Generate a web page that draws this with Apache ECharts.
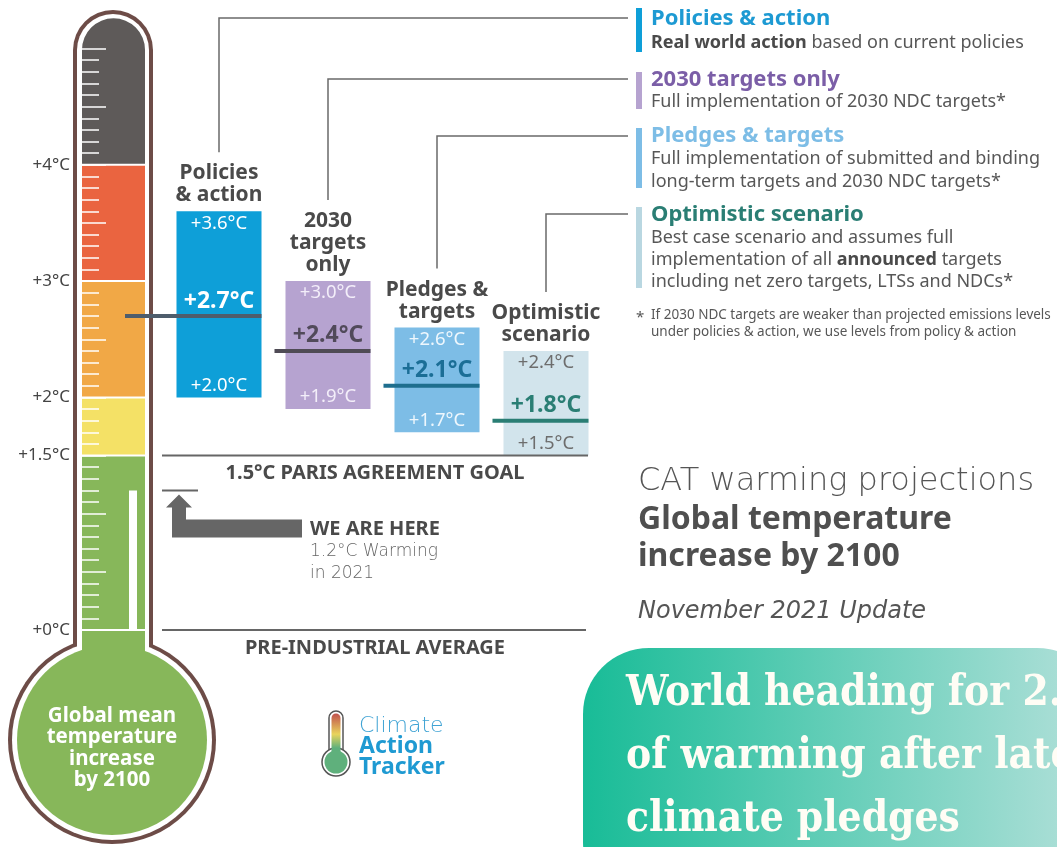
<!DOCTYPE html>
<html lang="en">
<head>
<meta charset="UTF-8">
<title>CAT warming projections</title>
<script src="https://cdn.jsdelivr.net/npm/echarts@6/dist/echarts.min.js"></script>
<style>
    *{margin:0;padding:0;}
    html,body{width:100%;height:100%;overflow:hidden;background:#fff;}
    .container{width:1057px;height:847px;}
</style>
</head>
<body>
<div class="container"></div>
<script>
// scenario data (°C by 2100)
let scenarios = ['Policies & action', '2030 targets only', 'Pledges & targets', 'Optimistic scenario'];
let scenarioTitles = ['Policies\n& action', '2030\ntargets\nonly', 'Pledges &\ntargets', 'Optimistic\nscenario'];
let lowValues = [2.0, 1.9, 1.7, 1.5];
let midValues = [2.7, 2.4, 2.1, 1.8];
let highValues = [3.6, 3.0, 2.6, 2.4];

// thermometer colour bands
let bandFrom = [0, 1.5, 2, 3, 4];
let bandTo = [1.5, 2, 3, 4, 5.26];
let tempLabels = [0, 1.5, 2, 3, 4];

let parisGoal = 1.5;
let preIndustrial = 0;
let currentWarming = 1.2;

let FONT = "'Noto Sans', 'Open Sans', sans-serif";
let LIGHT = "'DejaVu Sans', 'Noto Sans', sans-serif";
let SLAB = "'DejaVu Serif Condensed', 'DejaVu Serif', serif";
let bandColors = ['#87b75a', '#f4e166', '#f1a846', '#ea6440', '#5e5a59'];
let barStyles = [
    {fill:'#0e9fd8', line:'#4e5d6c', edge:'#ffffff', mid:'#ffffff'},
    {fill:'#b6a3d0', line:'#4f4b55', edge:'#f3eef9', mid:'#514a5a'},
    {fill:'#7dbde6', line:'#1e6e8e', edge:'#eef7fd', mid:'#1b6e96'},
    {fill:'#d2e4ec', line:'#2a7e74', edge:'#6d6d6d', mid:'#2a7e74'}
];
let legendY = [18, 79, 136, 214];

let container = document.querySelector('.container');
let mycharts = echarts.init(container);

let option = {
    animation: false,
    grid: [
        {left: 82, width: 63, top: 48.5, bottom: 217},
        {left: 164.5, width: 436, top: 48.5, bottom: 217}
    ],
    xAxis: [
        {gridIndex: 0, type: 'value', min: 0, max: 1, show: false},
        {gridIndex: 1, type: 'category', data: scenarios, show: false}
    ],
    yAxis: [
        {
            gridIndex: 0, type: 'value', min: 0, max: 5, position: 'left',
            axisLine: {show: false}, axisTick: {show: false}, splitLine: {show: false},
            axisLabel: {
                customValues: tempLabels, margin: 12,
                color: '#444', fontSize: 17, fontFamily: FONT,
                formatter: v => '+' + v + '°C'
            }
        },
        {gridIndex: 1, type: 'value', min: 0, max: 5, show: false},
        {
            gridIndex: 0, type: 'value', min: 0, max: 5, interval: 0.1, z: 10, position: 'left',
            axisLine: {show: false}, splitLine: {show: false}, axisLabel: {show: false},
            axisTick: {show: true, inside: true, length: 17, lineStyle: {color: '#fff', width: 1.5}}
        },
        {
            gridIndex: 0, type: 'value', min: 0, max: 5, interval: 0.5, z: 10, position: 'left',
            axisLine: {show: false}, splitLine: {show: false}, axisLabel: {show: false},
            axisTick: {show: true, inside: true, length: 24, lineStyle: {color: '#fff', width: 1.5}}
        }
    ],
    series: [
        {
            type: 'custom', name: 'bands', xAxisIndex: 0, yAxisIndex: 0, z: 5,
            data: bandFrom.map((f, i) => [i, f, bandTo[i]]),
            encode: {y: [1, 2]},
            renderItem: function (params, api) {
                let i = api.value(0);
                let top = api.coord([0, api.value(2)]);
                let bot = api.coord([1, api.value(1)]);
                let last = i === bandFrom.length - 1;
                let y0 = top[1] + (last ? 0 : 1);
                let y1 = bot[1] - 1;
                return {
                    type: 'rect',
                    shape: {x: top[0], y: y0, width: bot[0] - top[0], height: y1 - y0, r: last ? [31.5, 31.5, 0, 0] : 0},
                    style: {fill: bandColors[i]}
                };
            }
        },
        {
            type: 'custom', name: 'scenarios', xAxisIndex: 1, yAxisIndex: 1, z: 6,
            data: scenarios.map((s, i) => [i, lowValues[i], midValues[i], highValues[i]]),
            encode: {x: 0, y: [1, 2, 3]},
            renderItem: function (params, api) {
                let i = api.value(0);
                let st = barStyles[i];
                let cx = api.coord([i, 0])[0];
                let bw = api.size([1, 0])[0] * 0.78;
                let yLow = api.coord([i, api.value(1)])[1];
                let yMid = api.coord([i, api.value(2)])[1];
                let yHigh = api.coord([i, api.value(3)])[1];
                let x0 = cx - bw / 2, x1 = cx + bw / 2;
                let lineStart = i === 0 ? 125 : x0 - 11;
                let nLines = scenarioTitles[i].split('\n').length;
                let titleTop = yHigh - 5 - nLines * 22;
                let fmt = v => '+' + v.toFixed(1) + '°C';
                return {
                    type: 'group',
                    children: [
                        {type: 'rect', shape: {x: x0, y: yHigh, width: bw, height: yLow - yHigh}, style: {fill: st.fill}},
                        {type: 'line', shape: {x1: lineStart, y1: yMid, x2: x1, y2: yMid}, style: {stroke: st.line, lineWidth: 4}},
                        {type: 'text', x: cx, y: yHigh + 12, style: {text: fmt(api.value(3)), fill: st.edge, fontSize: 18.5, fontFamily: FONT, align: 'center', verticalAlign: 'middle'}},
                        {type: 'text', x: cx, y: yLow - 12, style: {text: fmt(api.value(1)), fill: st.edge, fontSize: 18.5, fontFamily: FONT, align: 'center', verticalAlign: 'middle'}},
                        {type: 'text', x: cx, y: yMid - 15, style: {text: fmt(api.value(2)), fill: st.mid, fontSize: 23, fontWeight: 'bold', fontFamily: FONT, align: 'center', verticalAlign: 'middle'}},
                        {type: 'text', x: cx, y: yHigh - 5, style: {text: scenarioTitles[i], fill: '#4a4a4a', fontSize: 21, fontWeight: 'bold', fontFamily: FONT, lineHeight: 22, align: 'center', verticalAlign: 'bottom'}},
                        {type: 'polyline', shape: {points: [[cx, titleTop - 10], [cx, legendY[i]], [628, legendY[i]]]}, style: {stroke: '#6a6a6a', lineWidth: 1.5, fill: null}}
                    ]
                };
            }
        }
    ]
};
mycharts.setOption(option);

// decorative parts placed with the same temperature scale
let Y = v => mycharts.convertToPixel({yAxisIndex: 0}, v);
let yParis = Y(parisGoal), yZero = Y(preIndustrial), yNow = Y(currentWarming);

function txt(x, y, text, extra) {
    let el = {type: 'text', x: x, y: y, z: 20, style: Object.assign({
        text: text, fill: '#575757', fontSize: 18, fontFamily: FONT, verticalAlign: 'middle'
    }, extra || {})};
    return el;
}
let boldRich = {b: {fontWeight: 'bold', fill: '#4a4a4a', fontSize: 18, fontFamily: FONT}};

let graphic = [
    // thermometer body
    {type: 'rect', z: 0, shape: {x: 73, y: 10, width: 80, height: 680, r: 40}, style: {fill: '#6d4c47'}},
    {type: 'circle', z: 0, shape: {cx: 112, cy: 740, r: 104}, style: {fill: '#6d4c47'}},
    {type: 'rect', z: 1, shape: {x: 77, y: 14, width: 72, height: 680, r: 36}, style: {fill: '#fff'}},
    {type: 'circle', z: 1, shape: {cx: 112, cy: 740, r: 100}, style: {fill: '#fff'}},
    {type: 'circle', z: 2, shape: {cx: 112, cy: 740, r: 95}, style: {fill: bandColors[0]}},
    {type: 'rect', z: 2, shape: {x: 82, y: yZero + 1, width: 63, height: 70}, style: {fill: bandColors[0]}},
    // current warming column
    {type: 'rect', z: 20, shape: {x: 129, y: yNow, width: 8, height: yZero - yNow - 1}, style: {fill: '#fff'}},
    txt(112, 748, 'Global mean\ntemperature\nincrease\nby 2100', {fill: '#fff', fontSize: 20.5, fontWeight: 'bold', lineHeight: 21.5, align: 'center'}),

    // reference lines
    {type: 'line', z: 20, shape: {x1: 162, y1: yParis, x2: 588, y2: yParis}, style: {stroke: '#666', lineWidth: 2}},
    {type: 'line', z: 20, shape: {x1: 162, y1: yZero, x2: 586, y2: yZero}, style: {stroke: '#666', lineWidth: 2}},
    {type: 'line', z: 20, shape: {x1: 162, y1: yNow, x2: 198, y2: yNow}, style: {stroke: '#666', lineWidth: 2}},
    txt(375, yParis + 18, '1.5°C PARIS AGREEMENT GOAL', {fill: '#4a4a4a', fontWeight: 'bold', fontSize: 20, align: 'center'}),
    txt(375, yZero + 18, 'PRE-INDUSTRIAL AVERAGE', {fill: '#4a4a4a', fontWeight: 'bold', fontSize: 20, align: 'center'}),

    // we are here arrow
    {type: 'polygon', z: 20, shape: {points: [
        [179, yNow + 4], [192, yNow + 17], [186, yNow + 17], [186, yNow + 29],
        [302, yNow + 29], [302, yNow + 47], [172, yNow + 47], [172, yNow + 17], [166, yNow + 17]
    ]}, style: {fill: '#666'}},
    txt(310, 529, 'WE ARE HERE', {fill: '#4a4a4a', fontWeight: 'bold', fontSize: 20}),
    txt(310, 552, '1.2°C Warming', {fill: '#666', fontFamily: LIGHT, fontWeight: 200, fontSize: 17}),
    txt(310, 574, 'in 2021', {fill: '#666', fontFamily: LIGHT, fontWeight: 200, fontSize: 17}),

    // logo
    {type: 'rect', z: 20, shape: {x: 329, y: 711, width: 14, height: 46, r: 7}, style: {fill: '#fff', stroke: '#555', lineWidth: 1.5}},
    {type: 'circle', z: 20, shape: {cx: 336, cy: 762, r: 14}, style: {fill: '#fff', stroke: '#555', lineWidth: 1.5}},
    {type: 'rect', z: 21, shape: {x: 331.5, y: 713.5, width: 9, height: 46, r: 4.5}, style: {fill: new echarts.graphic.LinearGradient(0, 0, 0, 1, [
        {offset: 0, color: '#c0504d'}, {offset: 0.45, color: '#e9d45c'}, {offset: 0.75, color: '#5fb07c'}, {offset: 1, color: '#5fb07c'}])}},
    {type: 'circle', z: 21, shape: {cx: 336, cy: 762, r: 11.5}, style: {fill: '#5fb07c'}},
    txt(359, 726, 'Climate', {fill: '#3fa3d4', fontSize: 22, fontFamily: LIGHT, fontWeight: 200}),
    txt(359, 746, 'Action', {fill: '#1f9ad2', fontSize: 23, fontWeight: 'bold'}),
    txt(359, 767, 'Tracker', {fill: '#1f9ad2', fontSize: 23, fontWeight: 'bold'}),

    // legend
    {type: 'rect', z: 20, shape: {x: 636, y: 8, width: 6, height: 44}, style: {fill: '#0e9fd8'}},
    {type: 'rect', z: 20, shape: {x: 636, y: 72, width: 6, height: 37}, style: {fill: '#b6a3d0'}},
    {type: 'rect', z: 20, shape: {x: 636, y: 128, width: 6, height: 60}, style: {fill: '#7dbde6'}},
    {type: 'rect', z: 20, shape: {x: 636, y: 207, width: 6, height: 81}, style: {fill: '#b9d7e1'}},
    txt(651, 19, 'Policies & action', {fill: '#1d9ad3', fontSize: 22, fontWeight: 'bold'}),
    txt(651, 43, '{b|Real world action} based on current policies', {rich: boldRich}),
    txt(651, 80, '2030 targets only', {fill: '#7b5ea7', fontSize: 22, fontWeight: 'bold'}),
    txt(651, 102, 'Full implementation of 2030 NDC targets*'),
    txt(651, 136, 'Pledges & targets', {fill: '#7dbde6', fontSize: 22, fontWeight: 'bold'}),
    txt(651, 159, 'Full implementation of submitted and binding'),
    txt(651, 182, 'long-term targets and 2030 NDC targets*'),
    txt(651, 215, 'Optimistic scenario', {fill: '#2a7e74', fontSize: 22, fontWeight: 'bold'}),
    txt(651, 238, 'Best case scenario and assumes full'),
    txt(651, 260, 'implementation of all {b|announced} targets', {rich: boldRich}),
    txt(651, 282, 'including net zero targets, LTSs and NDCs*'),
    txt(636, 318, '*', {fontSize: 15}),
    txt(651, 315, 'If 2030 NDC targets are weaker than projected emissions levels', {fontSize: 13.5}),
    txt(651, 332, 'under policies & action, we use levels from policy & action', {fontSize: 13.5}),

    // title block
    txt(638, 482, 'CAT warming projections', {fill: '#555', fontSize: 32, fontFamily: LIGHT, fontWeight: 200}),
    txt(638, 520, 'Global temperature', {fill: '#4f4f4f', fontSize: 32, fontWeight: 'bold'}),
    txt(638, 557, 'increase by 2100', {fill: '#4f4f4f', fontSize: 32, fontWeight: 'bold'}),
    txt(638, 612, 'November 2021 Update', {fill: '#555', fontSize: 24, fontFamily: LIGHT, fontStyle: 'italic', fontWeight: 200}),

    // banner
    {type: 'rect', z: 20, shape: {x: 583, y: 648, width: 520, height: 260, r: 66}, style: {fill: new echarts.graphic.LinearGradient(0, 0, 1, 0, [
        {offset: 0, color: '#18bc97'}, {offset: 1, color: '#b5e1db'}])}},
    txt(626, 694, 'World heading for 2.4°C', {fill: '#fffdf5', fontSize: 42, fontWeight: 'bold', fontFamily: SLAB}),
    txt(626, 757, 'of warming after latest', {fill: '#fffdf5', fontSize: 42, fontWeight: 'bold', fontFamily: SLAB}),
    txt(626, 820, 'climate pledges', {fill: '#fffdf5', fontSize: 42, fontWeight: 'bold', fontFamily: SLAB})
];
graphic.forEach(g => { if (g.type === 'text' && g.x === 626) g.z = 21; });
mycharts.setOption({graphic: graphic});
</script>
</body>
</html>
